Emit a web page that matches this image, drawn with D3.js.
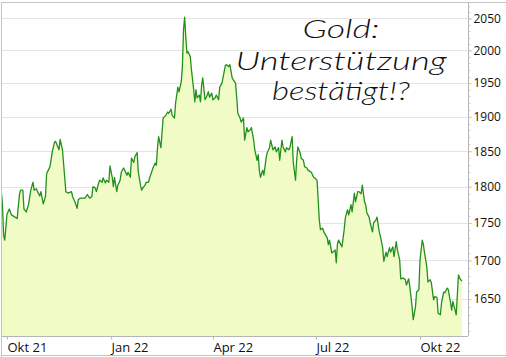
<!DOCTYPE html>
<html>
<head>
<meta charset="utf-8">
<script src="https://cdn.jsdelivr.net/npm/d3@7"></script>
<style>
	html, body { margin: 0; padding: 0; background: #fff; }
	svg { display: block; font-family: "Open Sans", sans-serif; }
</style>
</head>
<body>
<div id="chart"></div>
<script>
// Gold price, daily close
var dates = [
	"2021-09-26","2021-09-27","2021-09-28","2021-09-29","2021-10-01","2021-10-03","2021-10-05","2021-10-06","2021-10-08","2021-10-10",
	"2021-10-12","2021-10-13","2021-10-15","2021-10-16","2021-10-18","2021-10-20","2021-10-22","2021-10-24","2021-10-25","2021-10-27",
	"2021-10-28","2021-10-30","2021-10-31","2021-11-02","2021-11-04","2021-11-05","2021-11-08","2021-11-10","2021-11-12","2021-11-13",
	"2021-11-16","2021-11-17","2021-11-19","2021-11-21","2021-11-22","2021-11-24","2021-11-27","2021-11-28","2021-11-30","2021-12-02",
	"2021-12-03","2021-12-05","2021-12-08","2021-12-09","2021-12-11","2021-12-13","2021-12-15","2021-12-16","2021-12-18","2021-12-19",
	"2021-12-21","2021-12-22","2021-12-24","2021-12-25","2021-12-27","2021-12-28","2021-12-30","2021-12-31","2022-01-02","2022-01-03",
	"2022-01-04","2022-01-06","2022-01-07","2022-01-09","2022-01-10","2022-01-12","2022-01-13","2022-01-15","2022-01-16","2022-01-18",
	"2022-01-19","2022-01-21","2022-01-22","2022-01-24","2022-01-25","2022-01-27","2022-01-28","2022-01-29","2022-01-31","2022-02-01",
	"2022-02-03","2022-02-04","2022-02-06","2022-02-07","2022-02-09","2022-02-10","2022-02-11","2022-02-12","2022-02-14","2022-02-15",
	"2022-02-16","2022-02-18","2022-02-20","2022-02-21","2022-02-23","2022-02-24","2022-02-26","2022-02-27","2022-03-01","2022-03-02",
	"2022-03-04","2022-03-05","2022-03-06","2022-03-07","2022-03-08","2022-03-09","2022-03-10","2022-03-12","2022-03-13","2022-03-15",
	"2022-03-16","2022-03-17","2022-03-18","2022-03-20","2022-03-21","2022-03-22","2022-03-23","2022-03-25","2022-03-26","2022-03-28",
	"2022-03-29","2022-03-31","2022-04-01","2022-04-03","2022-04-04","2022-04-06","2022-04-07","2022-04-09","2022-04-10","2022-04-12",
	"2022-04-13","2022-04-15","2022-04-16","2022-04-18","2022-04-19","2022-04-21","2022-04-22","2022-04-23","2022-04-25","2022-04-26",
	"2022-04-28","2022-04-29","2022-05-01","2022-05-02","2022-05-04","2022-05-05","2022-05-07","2022-05-08","2022-05-10","2022-05-11",
	"2022-05-12","2022-05-13","2022-05-15","2022-05-16","2022-05-18","2022-05-19","2022-05-21","2022-05-22","2022-05-23","2022-05-24",
	"2022-05-26","2022-05-27","2022-05-29","2022-05-30","2022-06-01","2022-06-02","2022-06-04","2022-06-05","2022-06-07","2022-06-08",
	"2022-06-10","2022-06-11","2022-06-13","2022-06-14","2022-06-15","2022-06-17","2022-06-18","2022-06-20","2022-06-21","2022-06-23",
	"2022-06-24","2022-06-26","2022-06-27","2022-06-29","2022-06-30","2022-07-02","2022-07-03","2022-07-04","2022-07-05","2022-07-07",
	"2022-07-08","2022-07-11","2022-07-12","2022-07-13","2022-07-15","2022-07-16","2022-07-18","2022-07-19","2022-07-20","2022-07-21",
	"2022-07-23","2022-07-24","2022-07-26","2022-07-27","2022-07-29","2022-07-30","2022-08-01","2022-08-02","2022-08-04","2022-08-05",
	"2022-08-07","2022-08-08","2022-08-10","2022-08-11","2022-08-13","2022-08-14","2022-08-15","2022-08-17","2022-08-18","2022-08-20",
	"2022-08-21","2022-08-23","2022-08-24","2022-08-26","2022-08-27","2022-08-29","2022-08-30","2022-09-01","2022-09-02","2022-09-04",
	"2022-09-05","2022-09-07","2022-09-08","2022-09-10","2022-09-11","2022-09-13","2022-09-14","2022-09-16","2022-09-18","2022-09-19",
	"2022-09-21","2022-09-22","2022-09-24","2022-09-25","2022-09-27","2022-09-28","2022-09-30","2022-10-01","2022-10-03","2022-10-04",
	"2022-10-05","2022-10-07","2022-10-08","2022-10-10","2022-10-11","2022-10-13","2022-10-14","2022-10-16","2022-10-17","2022-10-19",
	"2022-10-20","2022-10-22","2022-10-23","2022-10-25","2022-10-26","2022-10-28","2022-10-29","2022-10-30","2022-11-01","2022-11-02",
	"2022-11-04","2022-11-05","2022-11-07"
];

var prices = [
	1793,1775,1733,1727,1762,1769,1761,1760,1758,1756,
	1789,1795,1795,1769,1765,1775,1795,1806,1795,1797,
	1793,1787,1793,1776,1786,1818,1828,1849,1863,1864,
	1852,1867,1852,1813,1793,1791,1793,1786,1779,1770,
	1782,1784,1784,1784,1789,1784,1786,1800,1798,1793,
	1805,1809,1806,1812,1805,1809,1806,1829,1813,1800,
	1813,1793,1802,1809,1820,1826,1823,1816,1820,1813,
	1840,1834,1842,1848,1821,1802,1795,1798,1802,1806,
	1806,1812,1821,1826,1833,1830,1855,1871,1855,1876,
	1898,1901,1907,1905,1911,1902,1898,1920,1944,1937,
	1952,1975,2032,2052,2021,1996,1998,1990,1970,1940,
	1922,1940,1928,1932,1922,1947,1958,1925,1928,1937,
	1929,1935,1925,1928,1932,1925,1944,1950,1959,1977,
	1978,1975,1978,1958,1955,1950,1929,1905,1898,1892,
	1898,1866,1884,1878,1881,1884,1866,1852,1837,1845,
	1823,1813,1823,1816,1840,1848,1855,1866,1859,1852,
	1856,1849,1855,1837,1866,1856,1849,1855,1852,1855,
	1871,1834,1809,1837,1856,1848,1840,1837,1828,1826,
	1823,1821,1820,1813,1812,1809,1782,1754,1741,1743,
	1738,1730,1721,1727,1710,1711,1714,1697,1721,1727,
	1721,1718,1741,1757,1768,1761,1775,1765,1791,1779,
	1793,1793,1790,1802,1779,1775,1764,1758,1750,1738,
	1750,1754,1758,1738,1732,1717,1699,1711,1705,1717,
	1711,1718,1705,1725,1714,1701,1676,1677,1675,1668,
	1676,1666,1640,1624,1640,1659,1662,1701,1727,1721,
	1710,1692,1672,1675,1671,1649,1653,1652,1632,1630,
	1645,1659,1658,1664,1662,1645,1636,1647,1636,1630,
	1681,1677,1673
];

var yTicks = [1650, 1700, 1750, 1800, 1850, 1900, 1950, 2000, 2050];
var xTickDates = ["2021-10-01", "2022-01-01", "2022-04-01", "2022-07-01", "2022-10-01"];
var xTickLabels = ["Okt 21", "Jan 22", "Apr 22", "Jul 22", "Okt 22"];
var titleLines = ["Gold:", "Unterstützung", "bestätigt!?"];

var W = 506, H = 357;
var plot = {left: 2, right: 468, top: 3, bottom: 336};
var parseDate = d3.timeParse("%Y-%m-%d");

var data = dates.map(function(d, i) { return {date: parseDate(d), close: prices[i]}; });

var x = d3.scaleTime()
	.domain([new Date(2021, 8, 26, 14), new Date(2022, 10, 12, 10)])
	.range([plot.left, plot.right]);

var y = d3.scaleLog()
	.domain([1603.5, 2074.7])
	.range([plot.bottom, plot.top]);

var svg = d3.select("#chart").append("svg")
	.attr("width", W)
	.attr("height", H);

svg.append("clipPath").attr("id", "clip")
	.append("rect")
	.attr("x", plot.left).attr("y", plot.top)
	.attr("width", plot.right - plot.left)
	.attr("height", plot.bottom - plot.top);

// outer frame
svg.append("path")
	.attr("d", "M1.5,357V2.5H506M1.5,355.5H506")
	.attr("fill", "none")
	.attr("stroke", "#c4c4c4");

// horizontal grid
svg.append("g").selectAll("line")
	.data(yTicks)
	.enter().append("line")
		.attr("x1", plot.left)
		.attr("x2", plot.right)
		.attr("y1", function(d) { return Math.round(y(d)) + 0.5; })
		.attr("y2", function(d) { return Math.round(y(d)) + 0.5; })
		.attr("stroke", "#e4e4e4");

// area + line
var area = d3.area()
	.x(function(d) { return x(d.date); })
	.y0(plot.bottom)
	.y1(function(d) { return y(d.close); });

var valueline = d3.line()
	.x(function(d) { return x(d.date); })
	.y(function(d) { return y(d.close); });

var g = svg.append("g").attr("clip-path", "url(#clip)");

g.append("path")
	.datum(data)
	.attr("d", area)
	.attr("fill", "#f1fbc6");

g.append("path")
	.datum(data)
	.attr("d", valueline)
	.attr("fill", "none")
	.attr("stroke", "#23901c")
	.attr("stroke-width", 1.3)
	.attr("stroke-linejoin", "round");

// right axis
var minor = d3.range(1610, 2071, 10);
var yAxis = d3.axisRight(y)
	.tickValues(yTicks)
	.tickFormat(d3.format("d"))
	.tickSize(3)
	.tickSizeOuter(0)
	.tickPadding(2);

var ya = svg.append("g")
	.attr("transform", "translate(" + (plot.right + 0.5) + ",0)")
	.call(yAxis);
ya.select(".domain").attr("d", "M0," + plot.top + "V" + plot.bottom).attr("stroke", "#b5b5b5");
ya.selectAll(".tick line").attr("stroke", "#b5b5b5");
ya.selectAll(".tick text")
	.attr("fill", "#111")
	.style("font-family", "'Open Sans', sans-serif")
	.style("font-size", "12px");

ya.selectAll(".minor")
	.data(minor)
	.enter().append("line")
		.attr("class", "minor")
		.attr("x1", 0).attr("x2", 2)
		.attr("y1", function(d) { return Math.round(y(d)) + 0.5; })
		.attr("y2", function(d) { return Math.round(y(d)) + 0.5; })
		.attr("stroke", "#cfcfcf");

// bottom axis
var xAxis = d3.axisBottom(x)
	.tickValues(xTickDates.map(parseDate))
	.tickFormat(function(d, i) { return xTickLabels[i]; })
	.tickSize(3)
	.tickSizeOuter(0)
	.tickPadding(3);

var xa = svg.append("g")
	.attr("transform", "translate(0," + (plot.bottom + 0.5) + ")")
	.call(xAxis);
xa.select(".domain").attr("d", "M" + plot.left + ",0H" + plot.right).attr("stroke", "#b5b5b5");
xa.selectAll(".tick line").attr("stroke", "#b5b5b5");
xa.selectAll(".tick text")
	.attr("text-anchor", "start")
	.attr("x", 0)
	.attr("fill", "#111")
	.style("font-family", "'Open Sans', sans-serif")
	.style("font-size", "13px");

// handwritten title
var titleY = [38, 70, 100];
var titleW = [77, 211, 138];
svg.append("g").selectAll("text")
	.data(titleLines)
	.enter().append("text")
		.attr("x", 341)
		.attr("y", function(d, i) { return titleY[i]; })
		.attr("text-anchor", "middle")
		.attr("textLength", function(d, i) { return titleW[i]; })
		.attr("lengthAdjust", "spacingAndGlyphs")
		.style("font-family", "'Segoe Print', 'Lato', sans-serif")
		.style("font-style", "italic")
		.style("font-weight", "300")
		.style("font-size", "26px")
		.attr("fill", "#111")
		.text(function(d) { return d; });
</script>
</body>
</html>
